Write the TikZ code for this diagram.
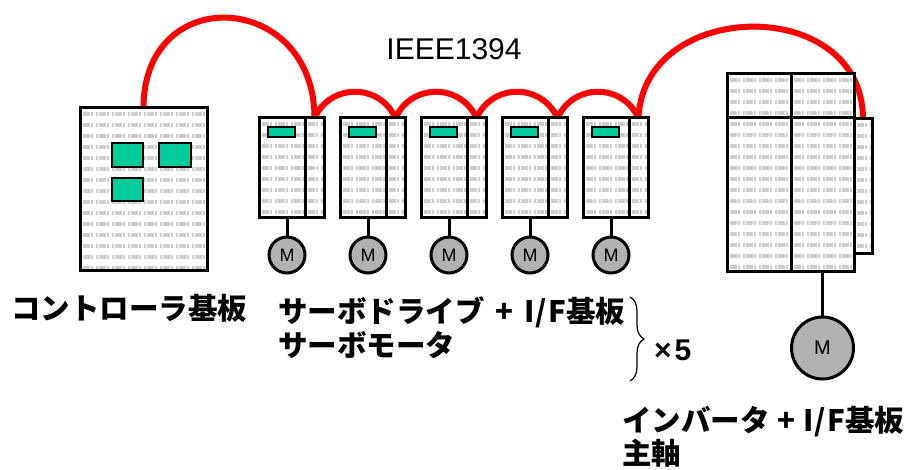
\documentclass[tikz,border=0pt]{standalone}
\usepackage{fontspec}
\setmainfont{Liberation Sans}
\newfontfamily\jp{Noto Sans CJK JP}
\usetikzlibrary{backgrounds,decorations.pathreplacing}
\definecolor{boardgreen}{RGB}{0,204,153}
\definecolor{cablered}{RGB}{255,0,0}
\definecolor{motorgray}{RGB}{178,178,178}
\definecolor{texgray}{RGB}{205,205,205}
\tikzset{
  textured/.style={path picture={
    \foreach \r [evaluate=\r as \yy using -6-\r*11] in {0,...,24}{
      \draw[texgray, line width=4pt,
            dash pattern=on 2pt off 1pt on 7pt off 1pt on 2pt off 3pt]
        ([yshift=\yy pt]path picture bounding box.north west) --
        ([yshift=\yy pt]path picture bounding box.north east);
    }}},
  unitbox/.style={draw, line width=3pt, fill=white, textured,
                  inner sep=0pt, outer sep=0pt},
  chip/.style={draw, line width=2pt, fill=boardgreen, inner sep=0pt, outer sep=0pt},
  motor/.style={circle, draw, line width=3pt, fill=motorgray, inner sep=0pt,
                outer sep=0pt, font=\fontsize{18}{20}\selectfont},
  stem/.style={line width=3pt},
  cable/.style={cablered, line width=6pt},
  jptext/.style={font=\jp\bfseries\fontsize{29.5}{35}\selectfont, inner sep=0pt,
                 anchor=base west},
}
% "+ I/F" with the wide spacing of the labels
\newcommand{\plusif}[1]{\hspace{#1}+\hspace{#1}I\kern1pt/\kern1pt F}
\begin{document}
\begin{tikzpicture}[x=1pt, y=-1pt]
\useasboundingbox (0,0) rectangle (908,470);

% controller board
\node[unitbox, minimum width=127pt, minimum height=163pt] (ctl) at (143.5,189.5) {};
\node[chip, minimum width=31pt, minimum height=24pt] (c1) at (127.5,155) {};
\node[chip, minimum width=32pt, minimum height=24pt] (c2) at (175,155) {};
\node[chip, minimum width=31pt, minimum height=23pt] (c3) at (127.5,189.5) {};

% servo drives with their motors
\foreach \i in {1,...,5}{
  \pgfmathsetmacro\xo{259+81*(\i-1)}
  \node[unitbox, minimum width=46pt, minimum height=100pt] (d\i) at (\xo+23,168) {};
  \node[unitbox, minimum width=19pt, minimum height=100pt] (r\i) at (\xo+55.5,168) {};
  \node[chip, minimum width=27pt, minimum height=10pt] (g\i) at (\xo+22.5,132) {};
  \node[motor, minimum size=36pt] (m\i) at (\xo+28,255) {M};
  \draw[stem] (m\i.north) -- (m\i.north |- d\i.south);
}

% inverter
\node[unitbox, minimum width=18pt, minimum height=135pt] (side) at (863,186.5) {};
\node[unitbox, minimum width=64pt, minimum height=44pt] (tl) at (759,96) {};
\node[unitbox, minimum width=63pt, minimum height=44pt] (tr) at (822.5,96) {};
\node[unitbox, minimum width=64pt, minimum height=154pt] (bl) at (759,195) {};
\node[unitbox, minimum width=63pt, minimum height=154pt] (br) at (822.5,195) {};
\node[motor, minimum size=62pt, font=\fontsize{20}{22}\selectfont] (mm) at (822.5,348) {M};
\draw[stem] (br.south) -- (mm.north);

% IEEE1394 cabling
\begin{scope}[on background layer]
  \draw[cable] (ctl.north) .. controls +(0,-127) and +(0,-127) .. (r1.north);
  \foreach \i/\j in {1/2,2/3,3/4,4/5}
    \draw[cable] (r\i.north) .. controls +(16,-35) and +(-16,-35) .. (r\j.north);
  \draw[cable] (r5.north) .. controls +(5,-120) and +(0,-125) .. (side.north);
\end{scope}
\node[font=\fontsize{30}{36}\selectfont, inner sep=0pt] (ieee) at (454,49) {IEEE1394};

% labels
\node[jptext] (lctl) at (11,320) {コントローラ基板};
\node[jptext] (ldrv) at (278,323) {サーボドライブ\plusif{11pt}基板};
\node[jptext] (lsm) at (278,357) {サーボモータ};
\coordinate (bt) at (630,297);
\coordinate (bb) at (630,381);
\draw[decorate, decoration={brace, amplitude=14pt}, line width=1.2pt] (bt) -- (bb);
\node[font=\bfseries\fontsize{30}{34}\selectfont, inner sep=0pt, anchor=base west]
  (times) at (654,360) {×\kern3pt 5};
\node[jptext] (linv) at (622,431) {インバータ\plusif{8pt}基板};
\node[jptext] (lsp) at (622,464) {主軸};
\end{tikzpicture}
\end{document}
